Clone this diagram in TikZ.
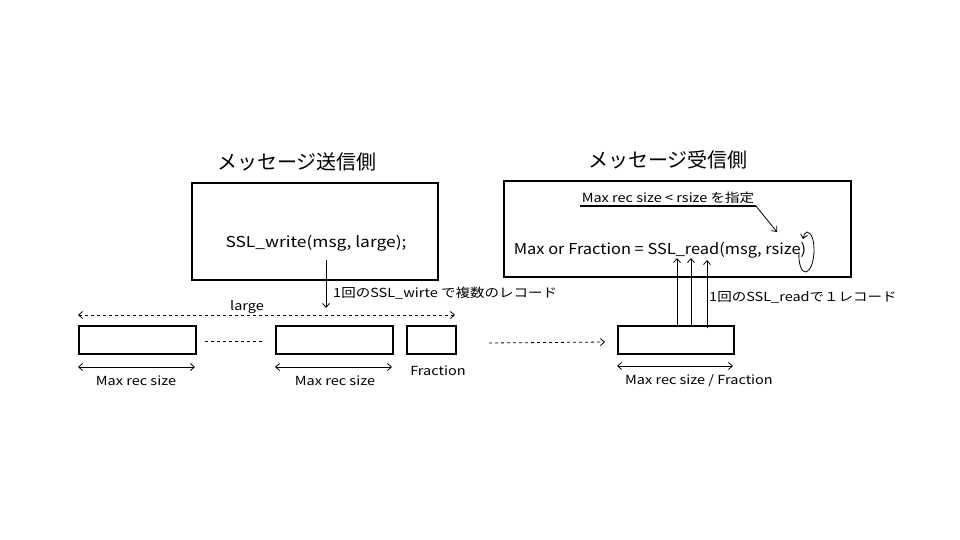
\documentclass[tikz,border=0pt]{standalone}
\usepackage{fontspec}
\setmainfont{Noto Sans CJK JP}
\newfontfamily\widefont{Noto Sans CJK JP}[FakeStretch=1.16]
\newfontfamily\midfont{Noto Sans CJK JP}[FakeStretch=1.095]
\usetikzlibrary{arrows.meta}
\begin{document}
\begin{tikzpicture}[x=1pt,y=-1pt,
  >={Straight Barb[length=4pt,width=7pt]},
  box/.style={draw, line width=2pt, inner sep=0pt, anchor=north west},
  rec/.style={box, minimum height=28pt},
  thin/.style={line width=0.8pt},
  titlefont/.style={font=\fontsize{20}{22}\selectfont, inner sep=0pt},
  mainfont/.style={font=\widefont\fontsize{15}{18}\selectfont, inner sep=0pt},
  readfont/.style={font=\midfont\fontsize{15}{18}\selectfont, inner sep=0pt},
  smallfont/.style={font=\widefont\fontsize{12.5}{15}\selectfont, inner sep=0pt}]
\useasboundingbox (0,0) rectangle (960,540);

% sender
\node[titlefont] (sendtitle) at (297,162) {メッセージ送信側};
\node[box, minimum width=246pt, minimum height=97pt] (send) at (191,182) {};
\node[mainfont] (write) at (316,243) {SSL\_write(msg, large);};

% receiver
\node[titlefont] (recvtitle) at (668,160) {メッセージ受信側};
\node[box, minimum width=347pt, minimum height=96pt] (recv) at (503,180) {};
\node[smallfont] (spec) at (668,198) {Max rec size < rsize を指定};
\coordinate (ul1) at (580,206);
\coordinate (ul2) at (756,206);
\draw[line width=1.6pt] (ul1) -- (ul2);
\coordinate (spectip) at (777,232);
\draw[thin,->] (ul2) -- (spectip);
\node[readfont] (read) at (660,250) {Max or Fraction = SSL\_read(msg, rsize)};
\coordinate (curlA) at (799,252);
\coordinate (curlB) at (803,239);
\draw[thin,->] (curlA) .. controls (798,264) and (802,273) .. (806,272)
  .. controls (816,269) and (817,233) .. (807,232)
  .. controls (805,232) and (804,235) .. (curlB);

% sender records
\coordinate (lgA) at (78,315);
\coordinate (lgB) at (455,315);
\draw[thin,<->,dashed] (lgA) -- (lgB);
\node[smallfont] (large) at (247,307) {large};
\node[rec, minimum width=117pt] (r1) at (78,325) {};
\node[rec, minimum width=117pt] (r2) at (275,325) {};
\node[rec, minimum width=49pt] (r3) at (406,325) {};
\coordinate (gapA) at (205,341);
\coordinate (gapB) at (265,341);
\draw[thin,dashed] (gapA) -- (gapB);
\coordinate (m1a) at (78,367);
\coordinate (m1b) at (195,367);
\draw[thin,<->] (m1a) -- (m1b);
\coordinate (m2a) at (275,367);
\coordinate (m2b) at (392,367);
\draw[thin,<->] (m2a) -- (m2b);
\node[smallfont] (mrs1) at (136,381) {Max rec size};
\node[smallfont] (mrs2) at (335,381) {Max rec size};
\node[smallfont] (frac) at (438,371) {Fraction};

% write arrow
\coordinate (wA) at (326,260);
\coordinate (wB) at (326,308);
\draw[thin,->] (wA) -- (wB);
\node[smallfont, anchor=west] (wlabel) at (333,293) {1回のSSL\_wirte で複数のレコード};

% transfer
\coordinate (tA) at (489,343);
\coordinate (tB) at (605,342);
\draw[thin,->,dashed] (tA) -- (tB);

% receiver record
\node[rec, minimum width=116pt] (rr) at (617,325) {};
\coordinate (mrA) at (617,366);
\coordinate (mrB) at (733,366);
\draw[thin,<->] (mrA) -- (mrB);
\node[smallfont] (mrf) at (699,381) {Max rec size / Fraction};

\coordinate (u1a) at (677,325); \coordinate (u1b) at (677,258);
\coordinate (u2a) at (691,325); \coordinate (u2b) at (691,258);
\coordinate (u3a) at (707,328); \coordinate (u3b) at (707,260);
\draw[thin,->] (u1a) -- (u1b);
\draw[thin,->] (u2a) -- (u2b);
\draw[thin,->] (u3a) -- (u3b);
\node[smallfont, anchor=west] (rlabel) at (709,297) {1回のSSL\_readで１レコード};
\end{tikzpicture}
\end{document}
